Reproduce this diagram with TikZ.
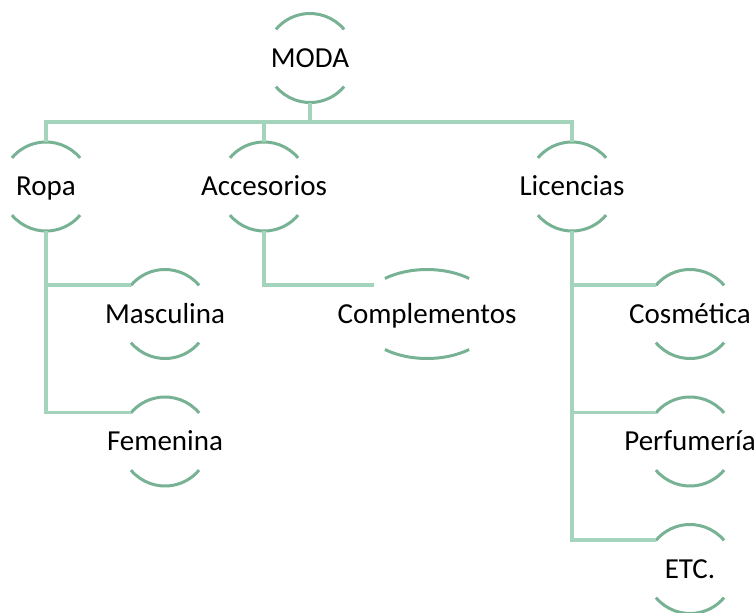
\documentclass[tikz,border=0pt]{standalone}
\usepackage{fontspec}
\setmainfont{Carlito}
\definecolor{rimgreen}{RGB}{120,178,148}
\definecolor{linkgreen}{RGB}{164,212,188}
% arcs above and below a label: node, x radius, start angle
\newcommand{\halfrims}[3]{%
\draw[rim] ([shift={(#3:#2pt and 44.5pt)}]#1.center) arc[start angle=#3, end angle=180-#3, x radius=#2pt, y radius=44.5pt];
\draw[rim] ([shift={(180+#3:#2pt and 44.5pt)}]#1.center) arc[start angle=180+#3, end angle=360-#3, x radius=#2pt, y radius=44.5pt];
\coordinate (#1t) at ([yshift=44.5pt]#1.center);
\coordinate (#1b) at ([yshift=-44.5pt]#1.center);
\coordinate (#1l) at ([shift={(139:#2pt and 44.5pt)}]#1.center);}
\begin{document}
\begin{tikzpicture}
	[x=1pt, y=1pt, node distance=127.5pt,
	main/.style = {inner sep=0pt, text height=18pt, text depth=0pt, font=\fontsize{29}{35}\selectfont},
	rim/.style = {draw=rimgreen, line width=3pt},
	link/.style = {draw=linkgreen, line width=3.5pt}]
\useasboundingbox (0,0) rectangle (755,-613);
\node[main] (1) at (310,-58) {MODA};
\node[main] (2) at (46,-186.5) {Ropa};
\node[main] (3) at (264,-186.5) {Accesorios};
\node[main] (4) at (572,-186.5) {Licencias};
\node[main] (5) [below of=2, xshift=119pt] {Masculina};
\node[main] (6) [below of=5] {Femenina};
\node[main] (7) [below of=3, xshift=163pt] {Complementos};
\node[main] (8) [below of=4, xshift=118pt] {Cosmética};
\node[main] (9) [below of=8] {Perfumería};
\node[main] (10) [below of=9] {ETC.};
\foreach \n in {1,2,3,4,5,6,8,9,10}
	\halfrims{\n}{44.5}{40};
\halfrims{7}{70}{53};
\draw[link] (1b) -- ++(0,-19.5) -| (2t);
\draw[link] (1b) -- ++(0,-19.5) -| (3t);
\draw[link] (1b) -- ++(0,-19.5) -| (4t);
\draw[link] (2b) |- (5l);
\draw[link] (2b) |- (6l);
\draw[link] (3b) |- (7l);
\draw[link] (4b) |- (8l);
\draw[link] (4b) |- (9l);
\draw[link] (4b) |- (10l);
\end{tikzpicture}
\end{document}
